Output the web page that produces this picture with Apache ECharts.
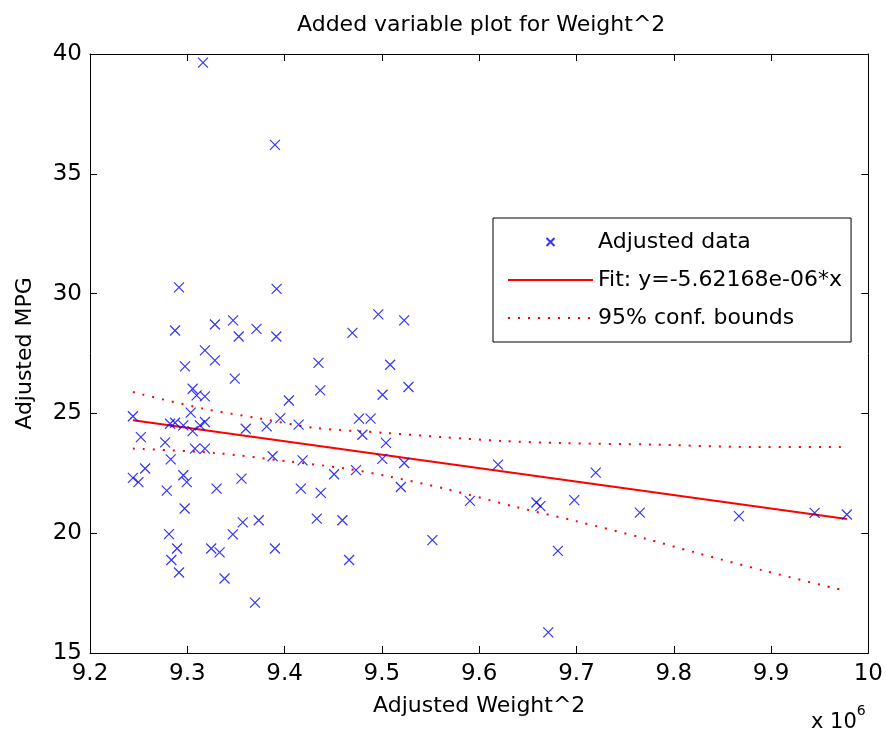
<!DOCTYPE html>
<html>
<head>
<meta charset="utf-8">
<title>Added variable plot for Weight^2</title>
<script src="https://cdn.jsdelivr.net/npm/echarts@6/dist/echarts.min.js"></script>
<style>
html, body { margin: 0; padding: 0; background: #fff; }
#container { width: 886px; height: 733px; }
</style>
</head>
<body>
<div id="container"></div>
<script>
// x values in units of 1e6
var dataX = [9.3161, 9.3901, 9.2915, 9.3918, 9.2874, 9.3284, 9.3471, 9.3529, 9.3711, 9.3915,
	9.4963, 9.4697, 9.3181, 9.3284, 9.2976, 9.4348, 9.5085, 9.3488, 9.3055, 9.3096,
	9.3181, 9.4366, 9.5007, 9.5273, 9.5229, 9.4044, 9.2441, 9.3035, 9.2823, 9.2874,
	9.2959, 9.3055, 9.3130, 9.3181, 9.3956, 9.4144, 9.3601, 9.3816, 9.4765, 9.4884,
	9.4799, 9.5042, 9.2523, 9.2772, 9.3079, 9.3181, 9.2830, 9.3877, 9.4185, 9.5004,
	9.5229, 9.2567, 9.2441, 9.2498, 9.2959, 9.2994, 9.2789, 9.3301, 9.3557, 9.4509,
	9.4734, 9.4167, 9.4372, 9.5195, 9.6194, 9.2973, 9.2812, 9.2895, 9.2836, 9.2915,
	9.3468, 9.3570, 9.3734, 9.3246, 9.3332, 9.3901, 9.3383, 9.3696, 9.4331, 9.4594,
	9.4663, 9.5519, 9.5905, 9.6588, 9.6629, 9.6977, 9.6809, 9.7198, 9.7651, 9.6710,
	9.8670, 9.9448, 9.9779];
var dataY = [39.64, 36.21, 30.26, 30.20, 28.46, 28.71, 28.88, 28.21, 28.53, 28.21,
	29.13, 28.36, 27.63, 27.21, 26.96, 27.11, 27.03, 26.45, 26.03, 25.75,
	25.71, 25.96, 25.78, 26.10, 28.88, 25.54, 24.88, 25.03, 24.57, 24.61,
	24.50, 24.26, 24.50, 24.64, 24.80, 24.53, 24.36, 24.46, 24.78, 24.78,
	24.11, 23.77, 24.01, 23.79, 23.53, 23.53, 23.08, 23.21, 23.04, 23.10,
	22.93, 22.70, 22.31, 22.13, 22.42, 22.13, 21.78, 21.86, 22.28, 22.46,
	22.63, 21.86, 21.68, 21.93, 22.86, 21.03, 19.96, 19.36, 18.88, 18.36,
	19.95, 20.45, 20.54, 19.36, 19.20, 19.36, 18.11, 17.10, 20.61, 20.54,
	18.88, 19.71, 21.35, 21.28, 21.13, 21.38, 19.26, 22.53, 20.86, 15.86,
	20.71, 20.85, 20.78];

var fitX = [9.2441, 9.9779];
var fitY = [24.71, 20.59];

var upperX = [9.2441, 9.3161, 9.3758, 9.4304, 9.5055, 9.5621, 9.6235, 9.6849, 9.7771, 9.8795, 9.9779];
var upperY = [25.89, 25.20, 24.78, 24.40, 24.18, 24.01, 23.85, 23.76, 23.70, 23.60, 23.60];
var lowerX = [9.2441, 9.3281, 9.4031, 9.4628, 9.5055, 9.5656, 9.6373, 9.6987, 9.7703, 9.8215, 9.8932, 9.9779];
var lowerY = [23.53, 23.35, 23.00, 22.70, 22.38, 21.85, 21.10, 20.51, 19.78, 19.20, 18.43, 17.58];

var legendNames = ['Adjusted data', 'Fit: y=-5.62168e-06*x', '95% conf. bounds'];

function zip(xs, ys) {
	var out = [];
	for (var i = 0; i < xs.length; i++) out.push([xs[i], ys[i]]);
	return out;
}

var dom = document.getElementById('container');
var myChart = echarts.init(dom, null, { renderer: 'canvas' });

var font = 'DejaVu Sans';
var crossPath = 'path://M0,0L10,10M10,0L0,10';

var axisCommon = {
	axisLine: { show: true, onZero: false, lineStyle: { color: '#000', width: 1 } },
	axisTick: { show: true, inside: true, length: 7, lineStyle: { color: '#000', width: 1 } },
	splitLine: { show: false }
};

var option = {
	animation: false,
	backgroundColor: '#fff',
	textStyle: { fontFamily: font },
	title: {
		text: 'Added variable plot for Weight^2',
		left: 292,
		top: 9,
		textStyle: { fontFamily: font, fontSize: 22, fontWeight: 'normal', color: '#000' }
	},
	grid: { left: 90, right: 15, top: 54, bottom: 80, containLabel: false },
	legend: {
		orient: 'vertical',
		left: 493,
		top: 218,
		padding: [13, 9, 13, 14],
		itemGap: 16,
		itemWidth: 85,
		itemHeight: 8,
		backgroundColor: '#fff',
		borderColor: '#000',
		borderWidth: 1,
		borderRadius: 0,
		textStyle: { fontFamily: font, fontSize: 22, color: '#000' },
		data: [
			{ name: legendNames[0] },
			// line-only samples: hide the legend's default symbol
			{ name: legendNames[1], itemStyle: { opacity: 0 } },
			{ name: legendNames[2], itemStyle: { opacity: 0 } }
		]
	},
	xAxis: [
		Object.assign({
			type: 'value', min: 9.2, max: 10, interval: 0.1, position: 'bottom',
			name: 'Adjusted Weight^2', nameLocation: 'middle', nameGap: 42,
			nameTextStyle: { fontFamily: font, fontSize: 22, color: '#000' },
			axisLabel: { fontFamily: font, fontSize: 23, color: '#000', margin: 10 }
		}, axisCommon),
		Object.assign({
			type: 'value', min: 9.2, max: 10, interval: 0.1, position: 'top',
			axisLabel: { show: false }
		}, axisCommon)
	],
	yAxis: [
		Object.assign({
			type: 'value', min: 15, max: 40, interval: 5, position: 'left',
			name: 'Adjusted MPG', nameLocation: 'middle', nameGap: 54,
			nameTextStyle: { fontFamily: font, fontSize: 22, color: '#000' },
			axisLabel: { fontFamily: font, fontSize: 23, color: '#000', margin: 8 }
		}, axisCommon),
		Object.assign({
			type: 'value', min: 15, max: 40, interval: 5, position: 'right',
			axisLabel: { show: false }
		}, axisCommon)
	],
	graphic: [{
		type: 'text',
		left: 811,
		top: 704,
		style: {
			text: '{a|x 10}{b|6}',
			rich: {
				a: { fontFamily: font, fontSize: 21, fill: '#000', verticalAlign: 'bottom', padding: [8, 0, 0, 0] },
				b: { fontFamily: font, fontSize: 14, fill: '#000', verticalAlign: 'top' }
			}
		}
	}],
	series: [
		{
			name: legendNames[0],
			type: 'scatter',
			symbol: crossPath,
			symbolSize: 10,
			itemStyle: { color: '#0000ff', borderColor: '#0000ff', borderWidth: 1.2 },
			data: zip(dataX, dataY),
			z: 3
		},
		{
			name: legendNames[1],
			type: 'line',
			symbol: 'none',
			lineStyle: { color: '#ff0000', width: 2 },
			itemStyle: { color: '#ff0000' },
			data: zip(fitX, fitY),
			z: 2
		},
		{
			name: legendNames[2],
			type: 'line',
			symbol: 'none',
			smooth: 0.3,
			lineStyle: { color: '#ff0000', width: 2, type: [2, 8] },
			itemStyle: { color: '#ff0000' },
			data: zip(upperX, upperY),
			z: 2
		},
		{
			name: legendNames[2],
			type: 'line',
			symbol: 'none',
			smooth: 0.3,
			lineStyle: { color: '#ff0000', width: 2, type: [2, 8] },
			itemStyle: { color: '#ff0000' },
			data: zip(lowerX, lowerY),
			z: 2
		}
	]
};

myChart.setOption(option);
</script>
</body>
</html>
